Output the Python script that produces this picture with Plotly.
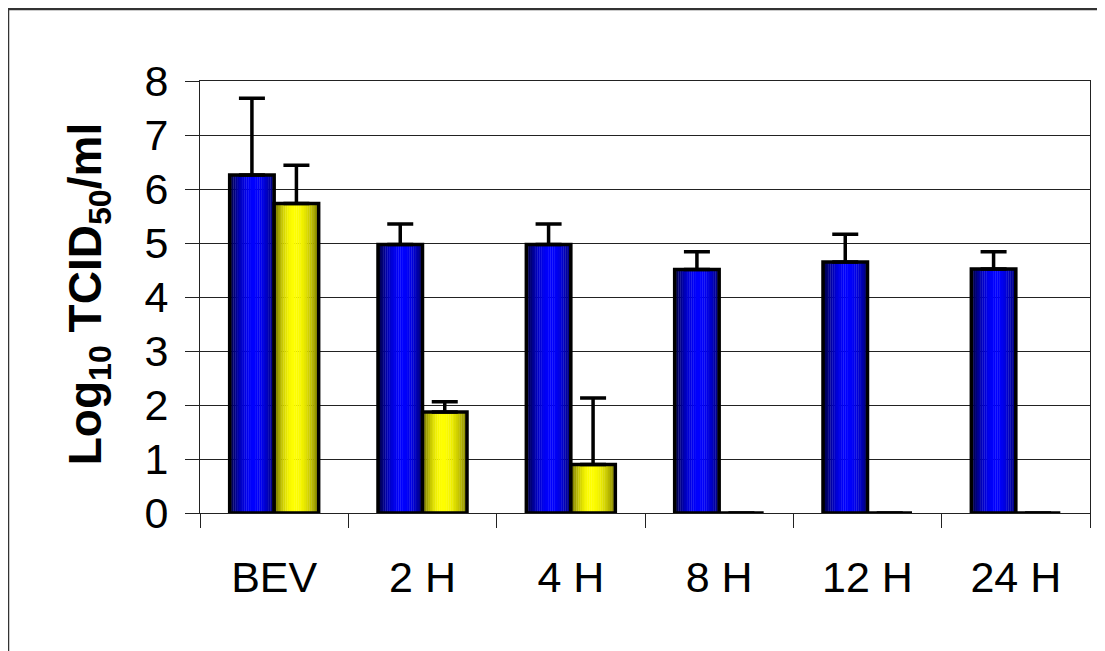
import plotly.graph_objects as go

categories = ["BEV", "2 H", "4 H", "8 H", "12 H", "24 H"]
blue_values = [6.26, 4.97, 4.97, 4.51, 4.65, 4.52]
blue_errors = [1.42, 0.38, 0.38, 0.33, 0.51, 0.32]
yellow_values = [5.73, 1.87, 0.90, 0.0, 0.0, 0.0]
yellow_errors = [0.71, 0.19, 1.23, 0.0, 0.0, 0.0]
y_ticks = [0, 1, 2, 3, 4, 5, 6, 7, 8]

BAR_W = 0.30
N_STRIPS = 24


def shade_profile(t, center, left_edge, right_edge):
    """Brightness across a bar (style only): dark edges, bright centre."""
    if t < center:
        u = (center - t) / center
        return 1 - (1 - left_edge) * u ** 2
    u = (t - center) / (1 - center)
    return 1 - (1 - right_edge) * u ** 2


fig = go.Figure()


def add_series(values, errors, base_offset, color_fn, center, le, re):
    sw = BAR_W / N_STRIPS
    for i in range(N_STRIPS):
        s = shade_profile((i + 0.5) / N_STRIPS, center, le, re)
        fig.add_trace(go.Bar(
            x=categories, y=values, width=sw * 1.15, offset=base_offset + i * sw,
            marker=dict(color=color_fn(s), line=dict(width=0)),
            showlegend=False, hoverinfo="skip"))
    fig.add_trace(go.Bar(
        x=categories, y=values, width=BAR_W, offset=base_offset,
        marker=dict(color="rgba(0,0,0,0)", line=dict(color="black", width=3.5)),
        error_y=dict(type="data", array=errors, arrayminus=[0] * len(errors),
                     symmetric=False, color="black", thickness=3.5, width=13),
        cliponaxis=False, showlegend=False))


add_series(blue_values, blue_errors, -BAR_W,
           lambda s: f"rgb(0,0,{int(255 * s)})", 0.55, 0.2, 0.4)
add_series(yellow_values, yellow_errors, 0.0,
           lambda s: f"rgb({int(255 * s)},{int(255 * s)},0)", 0.45, 0.38, 0.48)

fig.update_layout(
    barmode="overlay",
    width=1097, height=643,
    margin=dict(l=192, r=15, t=73, b=138),
    paper_bgcolor="white", plot_bgcolor="white",
    font=dict(family="Liberation Sans, Arial, sans-serif", color="black"),
    xaxis=dict(type="category", tickson="boundaries", ticks="outside", ticklen=14,
               tickcolor="#222", tickwidth=1, showgrid=False,
               showline=True, linecolor="#222", linewidth=1, mirror=True,
               tickfont=dict(size=43), ticklabelstandoff=26,
               range=[-0.5, 5.5]),
    yaxis=dict(range=[0, 8], tickvals=y_ticks, ticks="outside", ticklen=14,
               tickcolor="#222", tickwidth=1,
               showgrid=True, gridcolor="#222", gridwidth=1,
               showline=True, linecolor="#222", linewidth=1, mirror=True,
               zeroline=False, tickfont=dict(size=43), ticklabelstandoff=8),
    annotations=[dict(
        text="<b>Log<sub>10</sub> TCID<sub>50</sub>/ml</b>",
        xref="paper", yref="paper", x=-0.125, y=0.508,
        xanchor="center", yanchor="middle", textangle=-90,
        showarrow=False, font=dict(size=46, color="black"))],
    shapes=[dict(type="rect", xref="paper", yref="paper",
                 x0=-192 / 890, x1=1.3, y0=-0.6, y1=1 + 72 / 432,
                 line=dict(color="#333", width=2.5), layer="below")],
)

fig.write_html("out.html")
